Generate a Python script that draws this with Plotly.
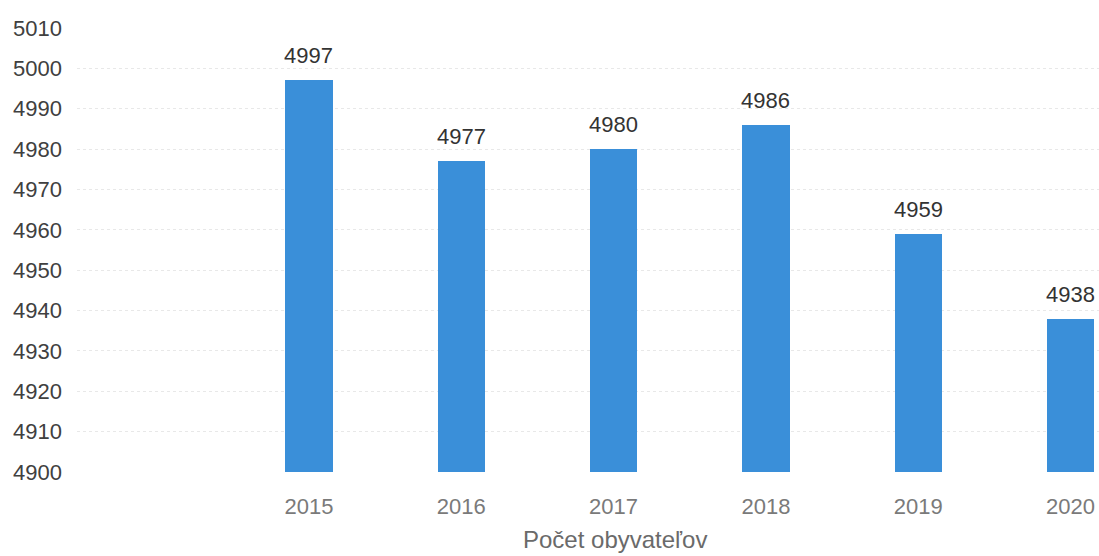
import plotly.graph_objects as go

years = [2015, 2016, 2017, 2018, 2019, 2020]
population = [4997, 4977, 4980, 4986, 4959, 4938]
y_ticks = [4900, 4910, 4920, 4930, 4940, 4950, 4960, 4970, 4980, 4990, 5000, 5010]
x_title = "Počet obyvateľov"

FONT = "Liberation Sans"

fig = go.Figure(
    go.Bar(
        x=years,
        y=population,
        width=0.31,
        marker=dict(color="#3a8fd9", line=dict(width=0)),
        cliponaxis=False,
        hoverinfo="skip",
    )
)

for yr, val in zip(years, population):
    fig.add_annotation(
        x=yr, y=val, text=str(val), showarrow=False,
        xanchor="center", yanchor="bottom", yshift=10,
        font=dict(family=FONT, size=22, color="#333333"),
    )

# x-axis title (offset like the original, whose plot area extends past the right edge)
fig.add_annotation(
    xref="paper", yref="paper", x=0.5264, y=-0.151,
    xanchor="center", yanchor="middle", showarrow=False,
    text=x_title, font=dict(family=FONT, size=24, color="#6a6a6a"),
)

fig.update_layout(
    width=1099,
    height=556,
    margin=dict(l=77, r=0, t=28, b=84),
    paper_bgcolor="white",
    plot_bgcolor="white",
    showlegend=False,
    bargap=0,
    font=dict(family=FONT),
)

fig.update_xaxes(
    range=[2013.477, 2020.187],
    tickvals=years,
    ticktext=[str(y) for y in years],
    tickfont=dict(family=FONT, size=22, color="#7a7a7a"),
    showgrid=False,
    zeroline=False,
    showline=False,
    ticks="",
    ticklabelstandoff=19,
)

fig.update_yaxes(
    range=[4900, 5010],
    tickvals=y_ticks,
    tickfont=dict(family=FONT, size=22, color="#404040"),
    showgrid=True,
    gridcolor="#e8e8e8",
    gridwidth=1,
    griddash="dot",
    zeroline=False,
    showline=False,
    ticks="",
    ticklabelstandoff=14,
)

fig.write_html(
    "out.html",
    config={"displayModeBar": False},
    post_script="document.body.style.margin='0';document.body.style.overflow='hidden';",
)
